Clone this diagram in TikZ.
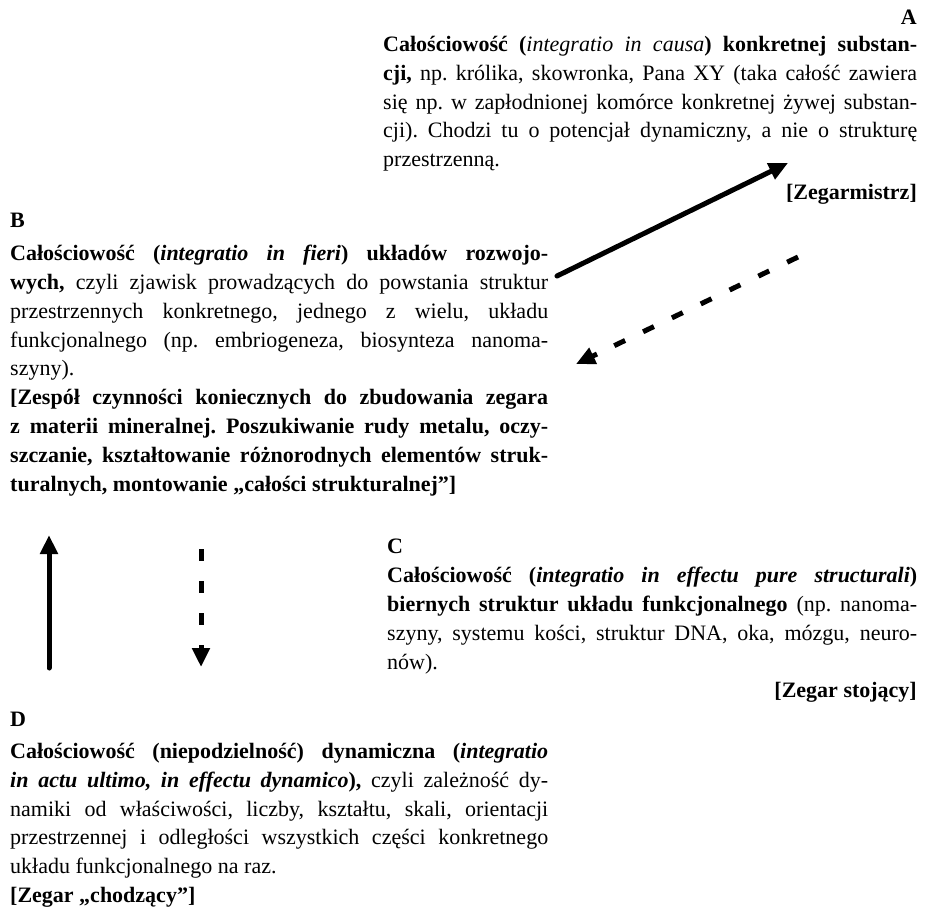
\documentclass[tikz,border=0pt]{standalone}
\usepackage{fontspec}
\setmainfont{Liberation Serif}
\usetikzlibrary{arrows.meta}
\hyphenpenalty=10000
\tolerance=9999
\frenchspacing

\begin{document}
\begin{tikzpicture}[x=1pt, y=-1pt,
  txt/.style={anchor=north west, inner sep=0pt, align=justify,
    font=\fontsize{22}{28.8}\selectfont},
  tag/.style={inner sep=0pt, font=\fontsize{22}{28.8}\selectfont\bfseries},
  flow/.style={line width=5pt, -{Triangle[length=19pt, width=17pt]}},
  back/.style={line width=5pt, line cap=butt, dash pattern=on 12pt off 20pt}]

% frame
\useasboundingbox (0,0) rectangle (925,910);

% block A
\node[tag, anchor=east] (labA) at (917,17) {A};
\node[txt, text width=534pt] (textA) at (383,36) {\textbf{Całościowość (\textit{\mdseries integratio in causa}) konkretnej substan-\linebreak cji,} np. królika, skowronka, Pana XY (taka całość zawiera\linebreak się np. w zapłodnionej komórce konkretnej żywej substan-\linebreak cji). Chodzi tu o potencjał dynamiczny, a nie o strukturę\linebreak przestrzenną.};
\node[tag, anchor=east] (tagA) at (917,194) {[Zegarmistrz]};

% block B
\node[tag, anchor=west] (labB) at (10,220) {B};
\node[txt, text width=538pt] (textB) at (10,245) {\textbf{Całościowość (\textit{integratio in fieri}) układów rozwojo-\linebreak wych,} czyli zjawisk prowadzących do powstania struktur\linebreak przestrzennych konkretnego, jednego z wielu, układu\linebreak funkcjonalnego (np. embriogeneza, biosynteza nanoma-\linebreak szyny).\par
\textbf{[Zespół czynności koniecznych do zbudowania zegara\linebreak z materii mineralnej. Poszukiwanie rudy metalu, oczy-\linebreak szczanie, kształtowanie różnorodnych elementów struk-\linebreak turalnych, montowanie „całości strukturalnej”]}};

% block C
\node[tag, anchor=west] (labC) at (387,546) {C};
\node[txt, text width=530pt] (textC) at (387,567) {\textbf{Całościowość (\textit{integratio in effectu pure structurali}) biernych struktur układu funkcjonalnego} (np. nanoma-\linebreak szyny, systemu kości, struktur DNA, oka, mózgu, neuro-\linebreak nów).};
\node[tag, anchor=east] (tagC) at (917,692) {[Zegar stojący]};

% block D
\node[tag, anchor=west] (labD) at (10,719) {D};
\node[txt, text width=538pt] (textD) at (10,743) {\textbf{Całościowość (niepodzielność) dynamiczna (\textit{integratio\linebreak in actu ultimo, in effectu dynamico}),} czyli zależność dy-\linebreak namiki od właściwości, liczby, kształtu, skali, orientacji\linebreak przestrzennej i odległości wszystkich części konkretnego\linebreak układu funkcjonalnego na raz.\par
\textbf{[Zegar „chodzący”]}};

% arrows between the blocks
\coordinate (upS) at (557,276);
\coordinate (upE) at (788,163);
\coordinate (dnS) at (798,257);
\coordinate (dnM) at (597,354);
\coordinate (dnE) at (576,364);
\coordinate (lfS) at (49,668);
\coordinate (lfE) at (49,535);
\coordinate (rtS) at (201,549);
\coordinate (rtM) at (201,647);
\coordinate (rtE) at (201,667);

\draw[flow, line cap=round] (upS) -- (upE);
\draw[back] (dnS) -- (dnM);
\draw[flow, line cap=butt] (dnM) -- (dnE);
\draw[flow, line cap=round] (lfS) -- (lfE);
\draw[back] (rtS) -- (rtM);
\draw[flow, line cap=butt] (rtM) -- (rtE);

\end{tikzpicture}
\end{document}
